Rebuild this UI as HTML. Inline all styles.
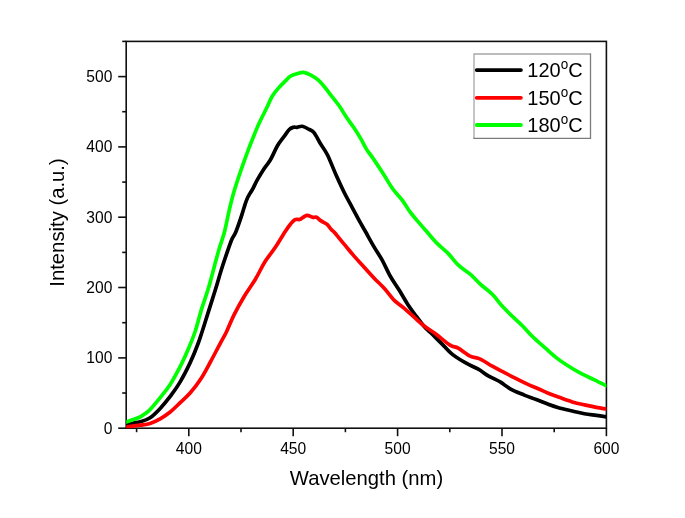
<!DOCTYPE html>
<html><head><meta charset="utf-8"><title>PL spectra</title>
<style>html,body{margin:0;padding:0;background:#fff;}svg{display:block;will-change:transform;}text{font-family:"Liberation Sans",sans-serif;fill:#000;}</style></head><body>
<svg width="685" height="518" viewBox="0 0 685 518">
<rect x="0" y="0" width="685" height="518" fill="#fff"/>
<defs><clipPath id="c"><rect x="126.2" y="41.4" width="480.2" height="386.8"/></clipPath></defs>
<g stroke="#101010" stroke-width="1.6" fill="none" stroke-linecap="butt">
<rect x="126.2" y="41.4" width="480.2" height="386.8"/>
<line x1="136.6" y1="428.2" x2="136.6" y2="432.2"/>
<line x1="188.8" y1="428.2" x2="188.8" y2="436.2"/>
<line x1="241.0" y1="428.2" x2="241.0" y2="432.2"/>
<line x1="293.2" y1="428.2" x2="293.2" y2="436.2"/>
<line x1="345.4" y1="428.2" x2="345.4" y2="432.2"/>
<line x1="397.6" y1="428.2" x2="397.6" y2="436.2"/>
<line x1="449.8" y1="428.2" x2="449.8" y2="432.2"/>
<line x1="502.0" y1="428.2" x2="502.0" y2="436.2"/>
<line x1="554.2" y1="428.2" x2="554.2" y2="432.2"/>
<line x1="606.4" y1="428.2" x2="606.4" y2="436.2"/>
<line x1="126.2" y1="428.2" x2="118.2" y2="428.2"/>
<line x1="126.2" y1="393.0" x2="122.2" y2="393.0"/>
<line x1="126.2" y1="357.9" x2="118.2" y2="357.9"/>
<line x1="126.2" y1="322.7" x2="122.2" y2="322.7"/>
<line x1="126.2" y1="287.5" x2="118.2" y2="287.5"/>
<line x1="126.2" y1="252.4" x2="122.2" y2="252.4"/>
<line x1="126.2" y1="217.2" x2="118.2" y2="217.2"/>
<line x1="126.2" y1="182.1" x2="122.2" y2="182.1"/>
<line x1="126.2" y1="146.9" x2="118.2" y2="146.9"/>
<line x1="126.2" y1="111.7" x2="122.2" y2="111.7"/>
<line x1="126.2" y1="76.6" x2="118.2" y2="76.6"/>
<line x1="126.2" y1="41.4" x2="122.2" y2="41.4"/>
</g>
<g clip-path="url(#c)" fill="none" stroke-width="3.7" stroke-linejoin="round" stroke-linecap="round">
<path stroke="#000" d="M126.2,424.2C128.5,423.8 136.1,422.9 140.1,421.8C144.1,420.7 146.8,420.0 150.1,417.8C153.4,415.6 156.8,412.0 160.2,408.4C163.5,404.8 166.8,400.9 170.2,396.4C173.5,391.9 177.0,387.3 180.3,381.6C183.7,375.9 187.3,368.8 190.3,362.4C193.3,356.0 196.4,348.1 198.3,343.0C200.2,337.9 200.3,337.1 202.0,332.0C203.7,326.9 206.0,319.3 208.2,312.4C210.4,305.4 213.0,297.3 215.2,290.3C217.4,283.3 219.1,276.9 221.2,270.2C223.3,263.5 226.1,255.3 227.9,250.1C229.7,244.9 230.7,242.0 232.0,239.0C233.3,236.0 234.1,236.1 235.8,232.0C237.5,227.9 240.5,219.0 242.0,214.4C243.5,209.8 244.1,207.4 245.0,204.6C245.9,201.8 246.8,199.5 247.6,197.6C248.4,195.7 249.2,194.8 250.0,193.4C250.8,192.0 251.4,191.4 252.6,189.2C253.8,187.0 255.2,183.6 257.0,180.4C258.8,177.2 260.9,173.6 263.1,170.2C265.3,166.8 267.9,164.0 270.3,160.0C272.7,156.0 275.0,150.0 277.3,146.0C279.6,142.0 282.3,138.9 284.3,136.2C286.3,133.4 287.8,131.0 289.3,129.5C290.8,128.0 292.0,127.7 293.3,127.3C294.6,126.9 295.8,127.5 297.3,127.3C298.8,127.1 300.5,126.0 302.3,126.3C304.1,126.6 306.4,127.9 308.3,129.0C310.2,130.1 312.0,130.2 314.0,132.7C316.0,135.2 318.2,140.1 320.5,143.8C322.8,147.5 324.9,149.7 327.5,155.0C330.1,160.3 333.5,169.3 336.3,175.5C339.1,181.7 341.5,187.0 344.1,192.3C346.7,197.6 349.4,202.3 352.1,207.3C354.8,212.3 357.9,218.3 360.2,222.4C362.5,226.5 363.4,227.9 365.7,232.0C368.0,236.1 371.4,242.4 374.2,247.1C376.9,251.8 379.5,255.3 382.2,260.1C384.9,265.0 387.4,271.2 390.3,276.2C393.2,281.2 396.3,285.4 399.3,290.3C402.3,295.2 405.5,301.0 408.3,305.3C411.1,309.6 413.8,312.9 416.4,316.4C419.0,319.9 421.9,323.8 424.2,326.5C426.5,329.2 428.4,330.6 430.4,332.5C432.4,334.4 433.8,335.8 436.1,338.1C438.4,340.4 441.4,343.4 444.1,346.1C446.8,348.8 448.4,351.2 452.1,354.1C455.8,357.0 461.8,360.7 466.2,363.2C470.6,365.7 474.6,367.1 478.3,369.2C482.0,371.3 484.6,373.6 488.3,375.8C492.0,378.0 497.0,380.0 500.6,382.2C504.2,384.4 506.2,386.6 510.2,388.8C514.1,391.0 520.0,393.3 524.3,395.1C528.6,396.9 532.2,398.0 536.2,399.5C540.2,401.0 544.5,402.9 548.2,404.3C551.9,405.7 554.5,406.6 558.5,407.7C562.5,408.8 568.0,410.0 572.3,411.0C576.6,412.0 580.4,413.1 584.4,413.8C588.4,414.5 592.7,414.9 596.4,415.4C600.1,415.9 604.7,416.6 606.4,416.8"/>
<path stroke="#f00" d="M126.2,427.0C128.5,426.7 136.1,425.8 140.1,425.2C144.1,424.6 146.8,424.5 150.1,423.4C153.4,422.3 156.8,420.7 160.2,418.8C163.5,416.9 166.8,414.7 170.2,412.0C173.5,409.3 177.0,405.8 180.3,402.6C183.7,399.4 187.0,396.6 190.3,392.8C193.7,389.0 197.1,384.7 200.4,379.6C203.8,374.5 207.1,368.1 210.4,362.0C213.7,355.9 217.7,348.1 220.4,343.1C223.1,338.1 224.1,336.8 226.4,332.0C228.7,327.2 231.3,320.3 234.3,314.4C237.3,308.4 240.8,302.2 244.3,296.3C247.8,290.4 251.9,285.1 255.4,279.2C258.9,273.3 262.0,266.5 265.4,261.1C268.8,255.8 272.2,252.1 275.5,247.1C278.8,242.1 282.9,235.0 285.4,231.2C287.9,227.4 288.8,226.1 290.4,224.2C292.0,222.3 293.5,220.4 295.0,219.6C296.5,218.8 298.2,219.9 299.6,219.5C301.1,219.1 302.4,217.7 303.7,217.0C305.0,216.3 305.8,215.2 307.3,215.3C308.8,215.4 311.4,217.1 312.9,217.4C314.4,217.7 315.1,216.6 316.5,217.2C317.9,217.8 319.3,219.7 321.1,220.9C322.9,222.1 325.5,223.1 327.2,224.5C328.9,225.9 330.1,228.3 331.3,229.6C332.5,230.9 332.4,230.1 334.5,232.5C336.6,234.9 340.8,240.2 344.1,244.1C347.4,248.0 350.8,252.3 354.1,256.1C357.5,260.0 360.9,263.5 364.2,267.2C367.5,270.9 370.9,274.7 374.2,278.2C377.5,281.7 380.8,284.6 384.2,288.3C387.6,292.0 390.9,297.0 394.3,300.3C397.7,303.6 401.0,305.5 404.3,308.3C407.6,311.1 411.1,314.4 414.4,317.4C417.7,320.3 420.6,323.2 424.2,326.0C427.8,328.8 431.5,330.8 435.8,334.0C440.1,337.2 446.4,342.8 450.1,345.1C453.8,347.5 454.9,346.3 458.2,348.1C461.5,349.9 466.5,354.3 470.2,356.1C473.9,357.9 476.6,357.4 480.3,359.1C484.0,360.8 488.6,364.1 492.3,366.2C496.0,368.3 499.0,369.8 502.7,371.7C506.4,373.6 510.3,375.7 514.2,377.7C518.1,379.7 522.3,381.8 526.3,383.7C530.3,385.6 534.6,387.2 538.3,388.8C541.9,390.4 544.8,391.9 548.2,393.3C551.6,394.7 554.5,395.7 558.5,397.1C562.5,398.5 568.0,400.6 572.3,401.9C576.6,403.2 580.4,404.0 584.4,404.9C588.4,405.8 592.7,406.7 596.4,407.4C600.1,408.1 604.7,408.7 606.4,409.0"/>
<path stroke="#0f0" d="M126.2,422.0C127.3,421.6 130.7,420.4 133.0,419.6C135.3,418.8 138.1,418.0 140.1,417.0C142.1,416.0 143.3,415.0 145.0,413.8C146.7,412.6 147.6,412.3 150.1,409.6C152.6,406.9 156.8,401.8 160.2,397.6C163.5,393.4 166.8,389.6 170.2,384.4C173.5,379.2 177.3,372.3 180.3,366.4C183.3,360.5 185.9,354.7 188.3,349.0C190.8,343.3 192.8,338.4 195.0,332.0C197.2,325.6 199.0,317.7 201.2,310.4C203.4,303.1 206.2,295.7 208.4,288.3C210.6,280.9 212.6,272.9 214.4,266.2C216.2,259.5 217.7,253.9 219.4,248.1C221.1,242.3 223.0,237.8 224.6,231.5C226.2,225.2 227.6,217.3 229.2,210.4C230.8,203.5 232.4,197.0 234.4,190.3C236.4,183.6 238.7,176.9 241.0,170.2C243.3,163.5 246.2,155.4 248.2,150.1C250.2,144.8 251.0,142.9 252.8,138.4C254.6,133.9 256.8,128.3 259.1,123.3C261.4,118.3 264.3,112.8 266.5,108.3C268.7,103.8 270.1,99.7 272.2,96.2C274.3,92.7 277.0,89.7 279.2,87.2C281.4,84.7 283.3,83.0 285.2,81.2C287.1,79.4 288.3,77.5 290.3,76.2C292.3,74.9 295.1,74.2 297.3,73.6C299.5,72.9 301.1,72.1 303.3,72.3C305.5,72.5 307.9,73.5 310.4,74.8C312.9,76.1 315.9,77.9 318.4,80.1C320.9,82.3 323.0,85.2 325.4,88.0C327.8,90.8 330.1,94.2 332.5,97.2C334.9,100.2 337.2,103.0 339.5,106.3C341.8,109.6 344.1,113.8 346.5,117.3C348.9,120.8 351.2,123.8 353.6,127.3C356.0,130.8 358.4,134.7 360.6,138.4C362.8,142.1 364.7,146.3 366.6,149.4C368.5,152.5 369.6,153.3 372.2,157.1C374.8,160.9 378.9,167.0 382.3,172.2C385.7,177.4 389.0,183.6 392.3,188.3C395.6,193.0 399.4,196.3 402.4,200.3C405.4,204.3 407.4,208.4 410.4,212.4C413.4,216.4 417.8,221.3 420.4,224.4C423.0,227.5 423.5,228.0 426.2,231.0C428.9,234.0 432.6,238.8 436.3,242.6C440.0,246.4 444.6,249.8 448.3,253.6C452.0,257.4 454.8,261.8 458.4,265.2C462.0,268.6 466.5,271.0 470.2,274.2C473.9,277.4 476.6,280.8 480.3,284.2C484.0,287.6 488.6,290.6 492.3,294.3C496.0,298.0 499.0,302.6 502.4,306.3C505.8,310.0 509.0,313.1 512.4,316.4C515.8,319.7 519.2,322.6 522.6,326.0C526.0,329.4 529.2,333.3 533.0,337.0C536.8,340.7 541.3,344.5 545.4,348.1C549.5,351.7 553.4,355.4 557.5,358.6C561.6,361.8 566.1,364.6 570.3,367.2C574.4,369.8 578.4,372.1 582.4,374.2C586.4,376.3 590.4,377.9 594.4,379.8C598.4,381.7 604.4,384.8 606.4,385.8"/>
</g>
<g font-size="15.6">
<text x="188.8" y="454.2" text-anchor="middle">400</text>
<text x="293.2" y="454.2" text-anchor="middle">450</text>
<text x="397.6" y="454.2" text-anchor="middle">500</text>
<text x="502.0" y="454.2" text-anchor="middle">550</text>
<text x="606.4" y="454.2" text-anchor="middle">600</text>
<text x="112.4" y="433.6" text-anchor="end">0</text>
<text x="112.4" y="363.3" text-anchor="end">100</text>
<text x="112.4" y="292.9" text-anchor="end">200</text>
<text x="112.4" y="222.6" text-anchor="end">300</text>
<text x="112.4" y="152.3" text-anchor="end">400</text>
<text x="112.4" y="82.0" text-anchor="end">500</text>
</g>
<text x="366.5" y="485.4" font-size="20.25" text-anchor="middle">Wavelength (nm)</text>
<text transform="translate(63.5,222.5) rotate(-90)" font-size="20.25" text-anchor="middle">Intensity (a.u.)</text>
<rect x="474" y="54" width="116.5" height="84.4" fill="#fff" stroke="none"/>
<path d="M474,139 V54 H591" fill="none" stroke="#a6a6a6" stroke-width="1.3"/>
<path d="M590.5,53.4 V138.4 H473.4" fill="none" stroke="#7c7c7c" stroke-width="1.3"/>
<line x1="476.7" y1="70.1" x2="520.9" y2="70.1" stroke="#000" stroke-width="3.8" stroke-linecap="round"/>
<text transform="translate(527.3,76.8) scale(1,1.05)" font-size="20">120<tspan font-size="13.5" dy="-7.3">o</tspan><tspan dy="7.3">C</tspan></text>
<line x1="476.7" y1="97.8" x2="520.9" y2="97.8" stroke="#f00" stroke-width="3.8" stroke-linecap="round"/>
<text transform="translate(527.3,104.5) scale(1,1.05)" font-size="20">150<tspan font-size="13.5" dy="-7.3">o</tspan><tspan dy="7.3">C</tspan></text>
<line x1="476.7" y1="125.0" x2="520.9" y2="125.0" stroke="#0f0" stroke-width="3.8" stroke-linecap="round"/>
<text transform="translate(527.3,131.7) scale(1,1.05)" font-size="20">180<tspan font-size="13.5" dy="-7.3">o</tspan><tspan dy="7.3">C</tspan></text>
</svg></body></html>
